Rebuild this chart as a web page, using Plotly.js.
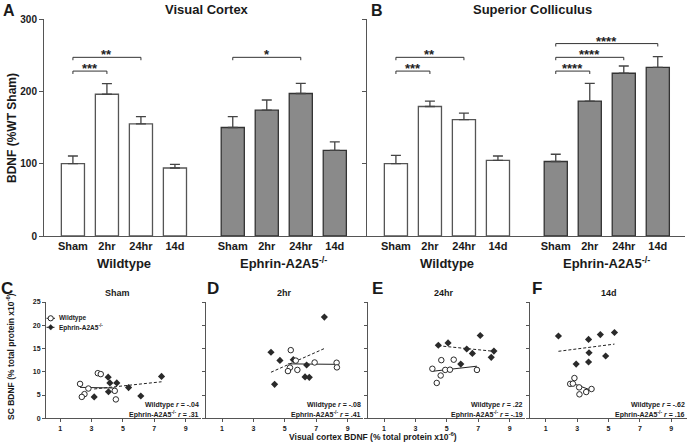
<!DOCTYPE html>
<html><head><meta charset="utf-8">
<script src="https://cdn.plot.ly/plotly-3.0.1.min.js"></script>
<style>html,body{margin:0;padding:0;background:#fff;} #chart{width:688px;height:443px;}</style>
</head><body><div id="chart"></div>
<script>
// ---------- DATA ----------
const categories = ['Sham','2hr','24hr','14d'];
const groupNames = ['Wildtype','Ephrin-A2A5<sup>-/-</sup>'];
const wtPos = [0,1,2,3];
const koPos = [4.7,5.7,6.7,7.7];

// Panel A: Visual cortex BDNF (%WT Sham), mean and SEM
const vcWT = [100,196,155,94];
const vcWTsem = [10.6,14.6,10,5];
const vcKO = [150,174,197,118.5];
const vcKOsem = [15,14,14,11.5];
// Panel B: Superior colliculus
const scWT = [100,179,161,104.6];
const scWTsem = [11.5,7.6,9,6];
const scKO = [103,186.6,225,233];
const scKOsem = [10,24.4,10,15];

// significance brackets
const vcBrGroup = ['wt','wt','ko'];
const vcBrFrom = [0,0,0];
const vcBrTo = [1,2,2];
const vcBrY = [228,247,247];
const vcBrText = ['***','**','*'];
const scBrGroup = ['wt','wt','ko','ko','ko'];
const scBrFrom = [0,0,0,0,0];
const scBrTo = [1,2,1,2,3];
const scBrY = [228,247,228,247,266];
const scBrText = ['***','**','****','****','****'];

// Correlation panels (x: visual cortex BDNF, y: SC BDNF)
const panelTitles = ['Sham','2hr','24hr','14d'];
const panelLetters = ['C','D','E','F'];
const wtR = ['-.04','-.08','.22','-.62'];
const koR = ['.31','.41','-.19','.16'];

const shamWTx = [2.27,2.55,2.38,2.8,3.4,3.59,4.48,4.55];
const shamWTy = [7.4,5.2,4.6,6.4,9.7,9.5,5.9,4.06];
const shamKOx = [3.17,4.06,4.17,4.61,4.08,5.36,6.14,7.46];
const shamKOy = [4.6,8.85,7.6,7.6,5.7,6.6,4.8,9.0];
const shamWTfitX = [2.27,4.55], shamWTfitY = [6.65,6.5];
const shamKOfitX = [3.17,7.46], shamKOfitY = [6.3,7.85];

const h2WTx = [5.38,5.33,5.2,5.7,5.8,6.9,8.3,8.32];
const h2WTy = [14.65,10.9,10.15,12.4,10.4,12.0,11.95,10.95];
const h2KOx = [4.12,4.69,4.35,5.54,6.39,6.29,6.56,7.52];
const h2KOy = [14.2,12.45,7.3,12.6,11.45,8.9,8.8,21.75];
const h2WTfitX = [5.2,8.32], h2WTfitY = [11.7,11.6];
const h2KOfitX = [4.12,7.52], h2KOfitY = [9.9,15.0];

const h24WTx = [4.08,4.65,4.61,4.36,4.9,5.2,5.44,6.92];
const h24WTy = [10.65,12.5,9.2,7.6,10.4,10.45,12.6,10.4];
const h24KOx = [4.46,5.08,6.27,6.63,5.89,7.13,8.0,7.83];
const h24KOy = [15.7,16.2,14.9,13.95,11.65,17.8,14.45,13.1];
const h24WTfitX = [4.08,6.92], h24WTfitY = [10.1,11.2];
const h24KOfitX = [4.46,8.0], h24KOfitY = [15.6,14.4];

const d14WTx = [2.83,2.56,2.73,3.13,3.15,3.58,3.92];
const d14WTy = [8.65,7.4,7.45,6.65,5.15,5.65,6.3];
const d14KOx = [1.81,3.73,4.48,5.38,3.76,4.82,2.94,3.73];
const d14KOy = [17.7,16.95,18.0,18.45,14.1,13.4,11.65,12.1];
const d14WTfitX = [2.56,3.92], d14WTfitY = [7.7,6.0];
const d14KOfitX = [1.81,5.38], d14KOfitY = [14.4,15.95];

// ---------- BUILD ----------
const FONT = 'Arial, "Liberation Sans", Helvetica, sans-serif';
const W = 688, H = 443;
const fx = p => p / W;
const fy = p => 1 - p / H;
const bold = (s, c) => ({family: FONT, size: s, color: c || '#1a1a1a', weight: 'bold'});

const traces = [];
const annotations = [];
const shapes = [];

function paperText(px, py, text, font, extra) {
  annotations.push(Object.assign({xref: 'paper', yref: 'paper', x: fx(px), y: fy(py), text: text,
    showarrow: false, xanchor: 'center', yanchor: 'middle', font: font}, extra || {}));
}
function barTrace(xa, ya, pos, vals, sem, fill, outline) {
  return {type: 'bar', x: pos, y: vals, width: 0.68, xaxis: xa, yaxis: ya,
    marker: {color: fill, line: {color: outline, width: 1.3}},
    error_y: {type: 'data', symmetric: false, array: sem, arrayminus: sem.map(() => 0),
      color: '#444', thickness: 1.3, width: 5},
    showlegend: false, hoverinfo: 'skip'};
}
function addBrackets(xa, ya, grp, from, to, yv, txt) {
  for (let i = 0; i < from.length; i++) {
    const pos = grp[i] === 'wt' ? wtPos : koPos;
    const x1 = pos[from[i]], x2 = pos[to[i]];
    traces.push({type: 'scatter', mode: 'lines', x: [x1, x1, x2, x2], y: [yv[i] - 4, yv[i], yv[i], yv[i] - 4],
      xaxis: xa, yaxis: ya, line: {color: '#333', width: 1}, showlegend: false, hoverinfo: 'skip'});
    annotations.push({xref: xa, yref: ya, x: (x1 + x2) / 2, y: yv[i], text: txt[i], showarrow: false,
      xanchor: 'center', yanchor: 'bottom', yshift: -7, font: bold(13, '#222')});
  }
}
// top panels
traces.push(barTrace('x', 'y', wtPos, vcWT, vcWTsem, '#ffffff', '#555'));
traces.push(barTrace('x', 'y', koPos, vcKO, vcKOsem, '#8a8a8a', '#333'));
traces.push(barTrace('x2', 'y2', wtPos, scWT, scWTsem, '#ffffff', '#555'));
traces.push(barTrace('x2', 'y2', koPos, scKO, scKOsem, '#8a8a8a', '#333'));
addBrackets('x', 'y', vcBrGroup, vcBrFrom, vcBrTo, vcBrY, vcBrText);
addBrackets('x2', 'y2', scBrGroup, scBrFrom, scBrTo, scBrY, scBrText);

const mean = a => a.reduce((s, v) => s + v, 0) / a.length;
['x', 'x2'].forEach(xa => {
  [wtPos, koPos].forEach((pos, gi) => {
    annotations.push({xref: xa, yref: 'paper', x: mean(pos), y: fy(263), xanchor: 'center', yanchor: 'middle',
      text: groupNames[gi], showarrow: false, font: bold(13)});
  });
});

// bottom panels
const scatterSets = [
  [shamWTx, shamWTy, shamKOx, shamKOy, shamWTfitX, shamWTfitY, shamKOfitX, shamKOfitY],
  [h2WTx, h2WTy, h2KOx, h2KOy, h2WTfitX, h2WTfitY, h2KOfitX, h2KOfitY],
  [h24WTx, h24WTy, h24KOx, h24KOy, h24WTfitX, h24WTfitY, h24KOfitX, h24KOfitY],
  [d14WTx, d14WTy, d14KOx, d14KOy, d14WTfitX, d14WTfitY, d14KOfitX, d14KOfitY]
];
scatterSets.forEach((s, i) => {
  const xa = 'x' + (i + 3), ya = 'y' + (i + 3);
  traces.push({type: 'scatter', mode: 'lines', x: s[4], y: s[5], xaxis: xa, yaxis: ya,
    line: {color: '#222', width: 1}, showlegend: false, hoverinfo: 'skip'});
  traces.push({type: 'scatter', mode: 'lines', x: s[6], y: s[7], xaxis: xa, yaxis: ya,
    line: {color: '#222', width: 1, dash: '3px,2px'}, showlegend: false, hoverinfo: 'skip'});
  traces.push({type: 'scatter', mode: 'markers', x: s[2], y: s[3], xaxis: xa, yaxis: ya,
    marker: {symbol: 'diamond', size: 5.5, color: '#2a2a2a', line: {width: 0}}, showlegend: false, hoverinfo: 'skip'});
  traces.push({type: 'scatter', mode: 'markers', x: s[0], y: s[1], xaxis: xa, yaxis: ya,
    marker: {symbol: 'circle', size: 5.5, color: '#ffffff', line: {color: '#2a2a2a', width: 1}}, showlegend: false, hoverinfo: 'skip'});
  annotations.push({xref: xa + ' domain', yref: ya + ' domain', x: 1, y: 0.114, xanchor: 'right', yanchor: 'middle',
    text: 'Wildtype <i>r</i> = ' + wtR[i], showarrow: false, font: bold(7)});
  annotations.push({xref: xa + ' domain', yref: ya + ' domain', x: 1, y: 0.032, xanchor: 'right', yanchor: 'middle',
    text: 'Ephrin-A2A5<sup>-/-</sup> <i>r</i> = ' + koR[i], showarrow: false, font: bold(7)});
});

// titles / labels
const subX = [117, 284, 444, 609];
const letX = [7, 213, 377, 537];
panelTitles.forEach((t, i) => {
  paperText(subX[i], 293, t, bold(9));
  paperText(letX[i], 288.5, panelLetters[i], bold(17));
});
paperText(9, 0, 'A', bold(16), {yanchor: 'top', y: 1});
paperText(377, 0, 'B', bold(16), {yanchor: 'top', y: 1});
paperText(207, 10, 'Visual Cortex', bold(13));
paperText(532, 10, 'Superior Colliculus', bold(13));
paperText(12, 128, 'BDNF (%WT Sham)', bold(12), {textangle: -90});
paperText(10, 357, 'SC BDNF (% total protein x10<sup>-6</sup>)', bold(8.5), {textangle: -90});
paperText(373, 436, 'Visual cortex BDNF (% total protein x10<sup>-6</sup>)', bold(8.5));

// legend in panel C
paperText(57, 318.3, 'Wildtype', bold(6.5), {xanchor: 'left'});
paperText(57, 327.3, 'Ephrin-A2A5<sup>-/-</sup>', bold(6.5), {xanchor: 'left'});
shapes.push({type: 'line', xref: 'paper', yref: 'paper', x0: fx(46.5), x1: fx(55), y0: fy(318.3), y1: fy(318.3), line: {color: '#222', width: 1}});
shapes.push({type: 'line', xref: 'paper', yref: 'paper', x0: fx(46.5), x1: fx(55), y0: fy(327.3), y1: fy(327.3), line: {color: '#222', width: 1, dash: '2px,1px'}});
shapes.push({type: 'circle', xref: 'paper', yref: 'paper', x0: fx(48.1), x1: fx(53.3), y0: fy(320.9), y1: fy(315.7), fillcolor: '#fff', line: {color: '#222', width: 1}});
shapes.push({type: 'path', xref: 'paper', yref: 'paper',
  path: `M ${fx(50.7)} ${fy(324.5)} L ${fx(53.3)} ${fy(327.3)} L ${fx(50.7)} ${fy(330.1)} L ${fx(48.1)} ${fy(327.3)} Z`,
  fillcolor: '#222', line: {color: '#222', width: 0.5}});

// ---------- LAYOUT ----------
const axLine = {showline: true, linecolor: '#555', linewidth: 1, showgrid: false, zeroline: false, fixedrange: true};
const topX = Object.assign({}, axLine, {range: [-0.85, 8.5], ticks: '', tickvals: wtPos.concat(koPos),
  ticktext: categories.concat(categories), tickfont: bold(11)});
const topY = Object.assign({}, axLine, {range: [0, 300], ticks: 'outside', ticklen: 4, tickcolor: '#555',
  tickvals: [0, 100, 200, 300], tickfont: bold(10)});
const layout = {
  width: W, height: H, margin: {l: 0, r: 0, t: 0, b: 0}, paper_bgcolor: '#fff', plot_bgcolor: 'rgba(0,0,0,0)',
  barmode: 'overlay', showlegend: false, font: {family: FONT},
  xaxis: Object.assign({}, topX, {domain: [fx(44), fx(362)], anchor: 'y'}),
  yaxis: Object.assign({}, topY, {domain: [fy(236), fy(19)], anchor: 'x'}),
  xaxis2: Object.assign({}, topX, {domain: [fx(367), fx(685)], anchor: 'y2'}),
  yaxis2: Object.assign({}, topY, {domain: [fy(236), fy(19)], anchor: 'x2', showticklabels: false}),
  annotations: annotations, shapes: shapes
};
const botDom = [[46, 201.4, 0.1], [206.3, 363.3, 0], [368.3, 525.3, 0], [530, 687, 0]];
botDom.forEach((d, i) => {
  const n = i + 3;
  layout['xaxis' + n] = Object.assign({}, axLine, {domain: [fx(d[0]), fx(d[1])], range: [d[2], 10], anchor: 'y' + n,
    tickvals: [1, 3, 5, 7, 9], ticks: 'outside', ticklen: 3, tickcolor: '#555', tickfont: bold(7)});
  layout['yaxis' + n] = Object.assign({}, axLine, {domain: [fy(418.3), fy(302)], range: [0, 25], anchor: 'x' + n,
    tickvals: [0, 5, 10, 15, 20, 25], ticks: 'outside', ticklen: 3, tickcolor: '#555', tickfont: bold(7),
    showticklabels: i === 0});
});

Plotly.newPlot('chart', traces, layout, {staticPlot: true, displayModeBar: false});
</script></body></html>
